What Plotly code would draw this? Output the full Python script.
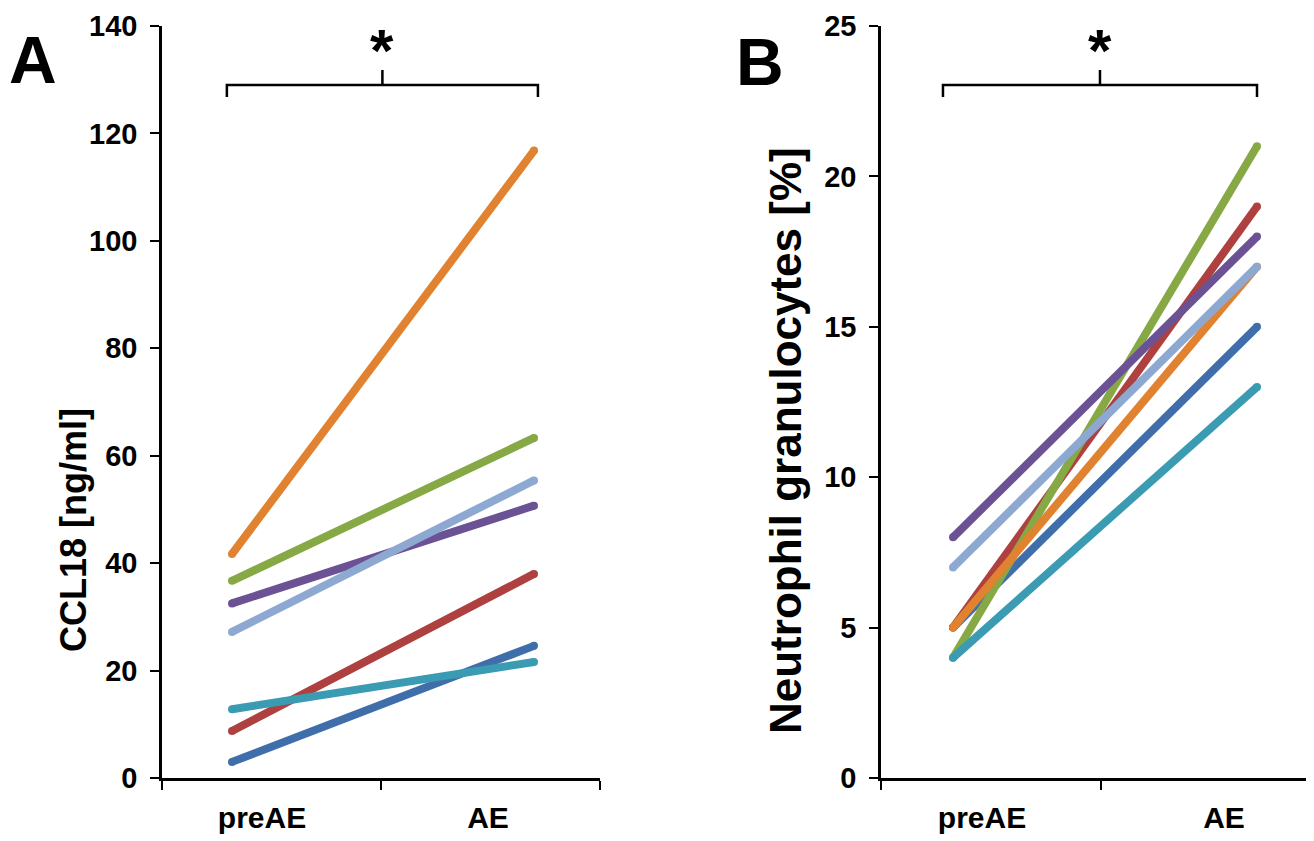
import plotly.graph_objects as go

# ---- data ----
timepoints = ["preAE", "AE"]
series_names = ["P1", "P2", "P3", "P4", "P5", "P6", "P7"]
ccl18_pre = [3.0, 8.75, 36.7, 32.5, 12.8, 41.7, 27.2]
ccl18_ae = [24.6, 38.0, 63.3, 50.7, 21.6, 116.8, 55.4]
neut_pre = [5, 5, 4, 8, 4, 5, 7]
neut_ae = [15, 19, 21, 18, 13, 17, 17]
colors = ["#3F6EAA", "#AE4040", "#86A845", "#6B5294", "#3A9BB2", "#E0822F", "#8DA9D2"]
yticks_a = [0, 20, 40, 60, 80, 100, 120, 140]
yticks_b = [0, 5, 10, 15, 20, 25]

OFF = 8  # default page body margin
W, H = 1314 - OFF, 841 - OFF
FONT = "Liberation Sans, Arial, sans-serif"
LW = 8


def px(x):
    return (x - OFF) / W


def py(y):
    return 1 - (y - OFF) / H


fig = go.Figure()
x_idx = list(range(len(timepoints)))
for i, name in enumerate(series_names):
    fig.add_trace(go.Scatter(x=x_idx, y=[ccl18_pre[i], ccl18_ae[i]], mode="lines+markers",
                             line=dict(color=colors[i], width=LW),
                             marker=dict(color=colors[i], size=LW, line=dict(width=0)),
                             name=name, showlegend=False, xaxis="x", yaxis="y"))
for i, name in enumerate(series_names):
    fig.add_trace(go.Scatter(x=x_idx, y=[neut_pre[i], neut_ae[i]], mode="lines+markers",
                             line=dict(color=colors[i], width=LW),
                             marker=dict(color=colors[i], size=LW, line=dict(width=0)),
                             name=name, showlegend=False, xaxis="x2", yaxis="y2"))

y_dom = [py(778), py(26)]

# axis A: pixel 162..600, data index 0 at px 232, 1 at px 534
unit_a = 302.0
xr_a = [-(232 - 162) / unit_a, (600 - 232) / unit_a]
# axis B: pixel 881..1314(+), data index 0 at px 953, 1 at px 1257
unit_b = 304.0
xr_b = [-(953 - 881) / unit_b, (1314 - 953) / unit_b]


def xaxis(rng, dom, p0, unit, tick_px, label_px):
    def d(p):
        return (p - p0) / unit
    return dict(domain=dom, range=rng, showgrid=False, zeroline=False, automargin=False,
                showline=True, linecolor="black", linewidth=2.5,
                tickmode="array", tickvals=[d(p) for p in label_px], ticktext=timepoints,
                ticks="", ticklabelstandoff=11,
                tickfont=dict(family=FONT, size=30, color="black", weight="bold"),
                minor=dict(tickmode="array", tickvals=[d(p) for p in tick_px],
                           ticks="outside", ticklen=9, tickwidth=2, tickcolor="black"),
                fixedrange=True)


def yaxis(rng, ticks, anchor):
    return dict(domain=y_dom, range=rng, anchor=anchor, showgrid=False, zeroline=False,
                automargin=False, showline=True, linecolor="black", linewidth=2.5,
                tickmode="array", tickvals=ticks, ticks="outside", ticklen=9,
                tickwidth=2, tickcolor="black", ticklabelstandoff=7,
                tickfont=dict(family=FONT, size=29, color="black", weight="bold"),
                fixedrange=True)


fig.update_layout(
    width=W, height=H, margin=dict(l=0, r=0, t=0, b=0, autoexpand=False),
    paper_bgcolor="white", plot_bgcolor="white",
    xaxis=dict(**xaxis(xr_a, [px(162), px(600)], 232, unit_a, [162, 381, 600], [262, 488]),
               anchor="y"),
    yaxis=yaxis([0, 140], yticks_a, "x"),
    xaxis2=dict(**xaxis(xr_b, [px(881), 1.0], 953, unit_b, [881, 1101, 1321], [982, 1224]),
                anchor="y2"),
    yaxis2=yaxis([0, 25], yticks_b, "x2"),
)

ann = [
    dict(text="<b>CCL18 [ng/ml]</b>", x=px(73), y=py(530), textangle=-90,
         font=dict(family=FONT, size=36, color="black")),
    dict(text="<b>Neutrophil granulocytes [%]</b>", x=px(785), y=py(441), textangle=-90,
         font=dict(family=FONT, size=44, color="black")),
    dict(text="<b>A</b>", x=px(33), y=py(60), font=dict(family=FONT, size=66, color="black")),
    dict(text="<b>B</b>", x=px(760), y=py(62), font=dict(family=FONT, size=66, color="black")),
]
for a in ann:
    a.update(xref="paper", yref="paper", showarrow=False, xanchor="center", yanchor="middle")
    fig.add_annotation(**a)

# significance brackets
for (xref, x0, x1) in [("x", -0.017, 1.013), ("x2", -0.033, 1.0)]:
    xc = (x0 + x1) / 2
    yh, ye, yt = py(85), py(97), py(70)
    path = (f"M {x0},{ye} L {x0},{yh} L {xc},{yh} L {xc},{yt} "
            f"M {xc},{yh} L {x1},{yh} L {x1},{ye}")
    fig.add_shape(type="path", path=path, xref=xref, yref="paper",
                  line=dict(color="black", width=2.5))
    fig.add_annotation(text="<b>*</b>", x=xc, y=py(50), xref=xref, yref="paper",
                       showarrow=False, font=dict(family=FONT, size=60, color="black"),
                       xanchor="center", yanchor="middle")

fig.write_html("out.html")
